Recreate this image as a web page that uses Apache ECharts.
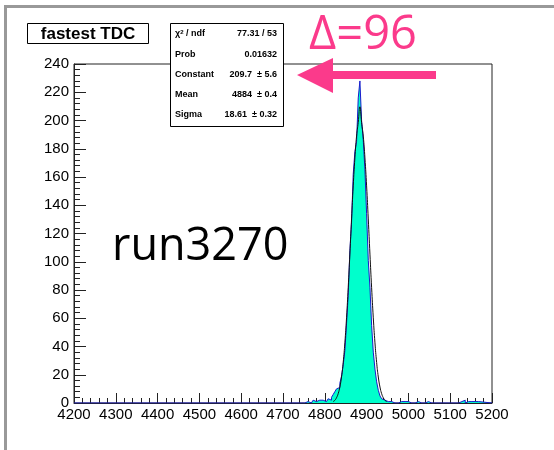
<!DOCTYPE html>
<html>
<head>
<meta charset="utf-8">
<script src="https://cdn.jsdelivr.net/npm/echarts@6/dist/echarts.min.js"></script>
<style>html,body{margin:0;padding:0;background:#fff}#c{width:554px;height:450px}</style>
</head>
<body>
<div id="c"></div>
<script>
// ---- data ----
var xTicks = [4200, 4300, 4400, 4500, 4600, 4700, 4800, 4900, 5000, 5100, 5200];
var yTicks = [0, 20, 40, 60, 80, 100, 120, 140, 160, 180, 200, 220, 240];
var histStart = 4744;
var binWidth = 4;
var counts = [
  0, 0, 0, 1, 1, 0, 1, 2, 1, 1, 2, 3, 2, 3, 1, 2, 3, 2, 4, 6,     // 4744-4820
  8, 10, 11, 14, 19, 27, 37, 56, 76, 108, 128, 162, 178, 185, 216, // 4824-4880
  228, 200, 186, 165, 134, 101, 82, 55, 36, 24, 15, 9, 5, 3, 2,    // 4884-4940
  1, 1, 0, 1, 1, 0, 1, 0, 1, 1, 0, 1, 0, 1, 1, 0, 1, 0, 1, 1,      // 4944-5020
  0, 0, 0, 0, 0, 1, 0, 0, 0, 0, 0, 0, 0, 0, 0, 0, 0, 0, 0, 0,      // 5024-5100
  1, 0, 1, 0, 0, 1, 0, 2, 0, 1, 0, 1, 0, 1, 0, 1, 0                // 5104-5168
];
var fitX = [4820, 4824, 4828, 4832, 4836, 4840, 4844, 4848, 4852, 4856, 4860, 4864, 4868, 4872, 4876, 4880, 4884,
            4888, 4892, 4896, 4900, 4904, 4908, 4912, 4916, 4920, 4924, 4928, 4932, 4936, 4940, 4944, 4948];
var fitY = [1.0, 1.9, 3.7, 6.6, 11.3, 18.4, 28.7, 42.6, 60.3, 81.6, 105.4, 130.3, 153.7, 173.5, 189.0, 198.6, 209.7,
            198.6, 189.0, 173.5, 153.7, 130.3, 105.4, 81.6, 60.3, 42.6, 28.7, 18.4, 11.3, 6.6, 3.7, 1.9, 1.0];
var statsRows = [
  ['chi', '77.31 / 53'],
  ['Prob', '0.01632'],
  ['Constant', '209.7  \u00b1 5.6'],
  ['Mean', '4884  \u00b1 0.4'],
  ['Sigma', '18.61  \u00b1 0.32']
];
var titleText = 'fastest TDC';
var deltaText = '\u0394=96';
var runText = 'run3270';

// ---- build series data ----
var histData = [[4200, 0], [histStart, 0]];
for (var i = 0; i < counts.length; i++) {
  histData.push([histStart + i * binWidth, counts[i]]);
}
histData.push([histStart + counts.length * binWidth, 0]);
histData.push([5200, 0]);
var fitData = fitX.map(function (x, i) { return [x, fitY[i]]; });

var chart = echarts.init(document.getElementById('c'), null, {renderer: 'canvas'});
var axisFont = 'Liberation Sans';

var graphics = [
  // window border
  {type: 'rect', shape: {x: 4, y: 5, width: 560, height: 3}, style: {fill: '#999'}, z: 100},
  {type: 'rect', shape: {x: 4, y: 5, width: 3, height: 450}, style: {fill: '#999'}, z: 100},
  // title box
  {type: 'rect', shape: {x: 27.5, y: 23.5, width: 121, height: 20}, style: {fill: '#fff', stroke: '#000', lineWidth: 1}, z: 50},
  {type: 'text', x: 88, y: 34, style: {text: titleText, font: 'bold 17px "Liberation Sans"', fill: '#000', align: 'center', verticalAlign: 'middle'}, z: 51},
  // stats box
  {type: 'rect', shape: {x: 170.5, y: 23.5, width: 113, height: 103}, style: {fill: '#fff', stroke: '#000', lineWidth: 1}, z: 50},
  // delta text
  {type: 'text', x: 363, y: 36, style: {text: deltaText, font: '500 47px "Open Sans"', fill: '#fb3a8b', align: 'center', verticalAlign: 'middle'}, z: 60},
  // arrow
  {type: 'polygon', shape: {points: [[297, 75], [333, 58], [333, 71], [436, 71], [436, 79], [333, 79], [333, 93]]}, style: {fill: '#fb3a8b'}, z: 60},
  // run label
  {type: 'text', x: 112, y: 247, style: {text: runText, font: '45px "Open Sans"', fill: '#000', align: 'left', verticalAlign: 'middle'}, z: 60}
];
var rowY = [34, 54.5, 75, 95, 115];
statsRows.forEach(function (r, i) {
  var left;
  if (r[0] === 'chi') {
    left = {type: 'text', x: 175, y: rowY[i], style: {
      text: '{a|\u03c7}{s|2}{a| / ndf}',
      rich: {a: {font: 'bold 9px "Liberation Sans"', fill: '#000'}, s: {font: 'bold 6px "Liberation Sans"', fill: '#000', verticalAlign: 'top', padding: [0, 0, 4, 0]}},
      align: 'left', verticalAlign: 'middle'}, z: 51};
  } else {
    left = {type: 'text', x: 175, y: rowY[i], style: {text: r[0], font: 'bold 9px "Liberation Sans"', fill: '#000', align: 'left', verticalAlign: 'middle'}, z: 51};
  }
  graphics.push(left);
  graphics.push({type: 'text', x: 277, y: rowY[i], style: {text: r[1], font: 'bold 9px "Liberation Sans"', fill: '#000', align: 'right', verticalAlign: 'middle'}, z: 51});
});

chart.setOption({
  animation: false,
  backgroundColor: '#fff',
  grid: {left: 74, right: 62, top: 64, bottom: 47, show: true, borderColor: '#222', borderWidth: 1, backgroundColor: 'transparent'},
  xAxis: {
    type: 'value', min: xTicks[0], max: xTicks[xTicks.length - 1], interval: 100,
    axisLine: {show: true, onZero: false, lineStyle: {color: '#222', width: 1}},
    axisTick: {show: true, inside: true, length: 10, lineStyle: {color: '#222'}},
    minorTick: {show: true, splitNumber: 5, length: 5, lineStyle: {color: '#222'}},
    splitLine: {show: false},
    axisLabel: {fontSize: 15, color: '#000', fontFamily: axisFont, margin: 4,
      formatter: function (v) { return xTicks.indexOf(v) >= 0 ? String(v) : ''; }}
  },
  yAxis: {
    type: 'value', min: yTicks[0], max: yTicks[yTicks.length - 1], interval: 20,
    axisLine: {show: true, lineStyle: {color: '#222', width: 1}},
    axisTick: {show: true, inside: true, length: 12, lineStyle: {color: '#222'}},
    minorTick: {show: true, splitNumber: 5, length: 6, lineStyle: {color: '#222'}},
    splitLine: {show: false},
    axisLabel: {fontSize: 15, color: '#000', fontFamily: axisFont, margin: 5,
      formatter: function (v) { return yTicks.indexOf(v) >= 0 ? String(v) : ''; }}
  },
  series: [
    {
      type: 'line', data: histData, step: 'end', showSymbol: false, symbol: 'none',
      lineStyle: {color: '#1a1acc', width: 1},
      areaStyle: {color: '#00ffcc', opacity: 1},
      z: 2
    },
    {
      type: 'line', data: fitData, smooth: true, showSymbol: false, symbol: 'none',
      lineStyle: {color: '#111', width: 1},
      z: 3
    }
  ],
  graphic: graphics
});
</script>
</body>
</html>
